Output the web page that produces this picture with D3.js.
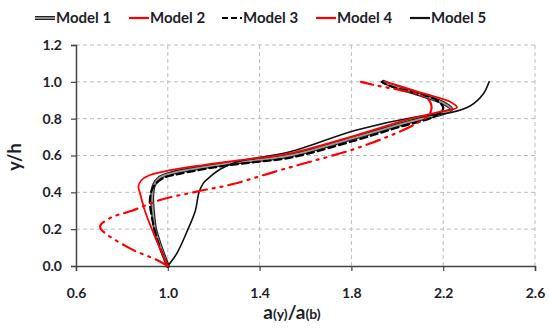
<!DOCTYPE html>
<html><head><meta charset="utf-8">
<script src="https://cdn.jsdelivr.net/npm/d3@7"></script>
<style>body{margin:0;background:#fff}svg{display:block}text{font-family:Lato,"Open Sans",sans-serif}</style>
</head><body><svg id="c" width="549" height="330"></svg>
<script>
const xTicks = [0.6, 1.0, 1.4, 1.8, 2.2, 2.6];
const yTicks = [0.0, 0.2, 0.4, 0.6, 0.8, 1.0, 1.2];
const seriesNames = ["Model 1", "Model 2", "Model 3", "Model 4", "Model 5"];

const m1x = [1.0, 0.97, 0.945, 0.935, 0.932, 0.94, 0.965, 1.02, 1.1, 1.25, 1.533, 1.823, 2.06, 2.2, 2.235, 2.2, 2.1, 2.0, 1.94];
const m1y = [0.0, 0.1, 0.2, 0.3, 0.38, 0.44, 0.48, 0.505, 0.525, 0.555, 0.60, 0.70, 0.785, 0.83, 0.852, 0.885, 0.93, 0.97, 1.0];

const m2x = [1.0, 0.944, 0.9, 0.879, 0.872, 0.886, 0.923, 1.01, 1.154, 1.315, 1.533, 1.823, 2.04, 2.187, 2.26, 2.23, 2.114, 2.012, 1.947];
const m2y = [0.0, 0.16, 0.3, 0.395, 0.43, 0.467, 0.494, 0.52, 0.548, 0.575, 0.612, 0.711, 0.793, 0.838, 0.861, 0.892, 0.937, 0.977, 1.0];

const m3x = [1.0, 0.96, 0.93, 0.922, 0.937, 0.98, 1.05, 1.2, 1.35, 1.533, 1.823, 2.012, 2.157, 2.20, 2.172, 2.085, 1.969, 1.932];
const m3y = [0.0, 0.12, 0.27, 0.36, 0.43, 0.477, 0.50, 0.535, 0.56, 0.588, 0.684, 0.756, 0.81, 0.856, 0.90, 0.937, 0.977, 1.0];

const m4x = [1.0, 0.957, 0.821, 0.705, 0.748, 0.843, 0.966, 1.126, 1.285, 1.46, 1.62, 1.795, 1.954, 2.085, 2.143, 2.143, 2.10, 2.012, 1.91, 1.842];
const m4y = [0.0, 0.03, 0.105, 0.213, 0.26, 0.30, 0.358, 0.404, 0.445, 0.51, 0.566, 0.628, 0.70, 0.775, 0.829, 0.892, 0.927, 0.955, 0.98, 1.0];

const m5x = [1.0, 1.04, 1.088, 1.12, 1.136, 1.155, 1.18, 1.228, 1.30, 1.40, 1.533, 1.823, 2.085, 2.23, 2.317, 2.376, 2.40];
const m5y = [0.0, 0.07, 0.2, 0.3, 0.4, 0.45, 0.48, 0.525, 0.565, 0.59, 0.62, 0.738, 0.81, 0.832, 0.869, 0.937, 1.0];

const svg = d3.select("#c");
const x = d3.scaleLinear().domain([0.6, 2.6]).range([76, 535]);
const y = d3.scaleLinear().domain([0, 1.2]).range([266, 45]);
const txt = "#1e1e2a";

// grid
svg.append("g").selectAll("line").data(xTicks.slice(1)).join("line")
  .attr("x1", d => x(d)).attr("x2", d => x(d)).attr("y1", y(0)).attr("y2", y(1.2))
  .attr("stroke", "#bdbdbd").attr("stroke-dasharray", "4,3").attr("stroke-width", 1);
svg.append("g").selectAll("line").data(yTicks.slice(1)).join("line")
  .attr("x1", x(0.6)).attr("x2", x(2.6)).attr("y1", d => y(d)).attr("y2", d => y(d))
  .attr("stroke", "#bdbdbd").attr("stroke-dasharray", "4,3").attr("stroke-width", 1);

// axes
const xa = svg.append("g").attr("transform", `translate(0,${y(0)})`)
  .call(d3.axisBottom(x).tickValues(xTicks).tickSize(5).tickFormat(d3.format(".1f")));
const ya = svg.append("g").attr("transform", `translate(${x(0.6)},0)`)
  .call(d3.axisLeft(y).tickValues(yTicks).tickSize(5).tickFormat(d3.format(".1f")));
[xa, ya].forEach(a => {
  a.select(".domain").attr("stroke", "#444").attr("stroke-width", 1.5);
  a.selectAll(".tick line").attr("stroke", "#444").attr("stroke-width", 1.2);
  a.selectAll("text").attr("fill", txt).attr("font-size", 14).attr("font-weight", "bold")
   .style("font-family", "Lato, sans-serif");
});
xa.selectAll("text").attr("dy", "0.71em").attr("y", 22);
ya.selectAll("text").attr("x", -14);

// titles
const xt = svg.append("text").attr("x", 292).attr("y", 319).attr("text-anchor", "middle")
  .attr("fill", txt).attr("font-size", 19).attr("font-weight", "bold");
xt.append("tspan").text("a");
xt.append("tspan").attr("font-size", 14).text("(y)");
xt.append("tspan").text("/a");
xt.append("tspan").attr("font-size", 14).text("(b)");
svg.append("text").attr("transform", "translate(21,157) rotate(-90)").attr("text-anchor", "middle")
  .attr("fill", txt).attr("font-size", 18).attr("font-weight", "bold").text("y/h");

// series
const styles = [
  {xs: m1x, ys: m1y, color: "#222", w: 4, dash: null, inner: "#9a9a9a"},
  {xs: m2x, ys: m2y, color: "#ff0000", w: 1.8, dash: null},
  {xs: m3x, ys: m3y, color: "#000", w: 2.2, dash: "7,4"},
  {xs: m4x, ys: m4y, color: "#ff0000", w: 2.2, dash: "14,6,2,6,2,6"},
  {xs: m5x, ys: m5y, color: "#111", w: 1.6, dash: null}
];
const line = d3.line().x(d => x(d[0])).y(d => y(d[1])).curve(d3.curveCatmullRom.alpha(0.5));
const order = [0, 4, 2, 3, 1];
order.forEach(i => {
  const s = styles[i];
  const pts = s.xs.map((v, k) => [v, s.ys[k]]);
  svg.append("path").datum(pts).attr("d", line).attr("fill", "none")
    .attr("stroke", s.color).attr("stroke-width", s.w).attr("stroke-dasharray", s.dash)
    .attr("stroke-linecap", "round");
  if (s.inner) svg.append("path").datum(pts).attr("d", line).attr("fill", "none")
    .attr("stroke", s.inner).attr("stroke-width", 1.8);
});

// legend
const lx = [35, 129, 222, 316, 410];
seriesNames.forEach((n, i) => {
  const s = styles[i];
  const g = svg.append("g");
  g.append("line").attr("x1", lx[i]).attr("x2", lx[i] + 20).attr("y1", 18).attr("y2", 18)
    .attr("stroke", s.color).attr("stroke-width", i === 0 ? 4 : 2.2)
    .attr("stroke-dasharray", i === 2 ? "6,3" : null);
  if (s.inner) g.append("line").attr("x1", lx[i]).attr("x2", lx[i] + 20).attr("y1", 18).attr("y2", 18)
    .attr("stroke", s.inner).attr("stroke-width", 1.8);
  g.append("text").attr("x", lx[i] + 21).attr("y", 23).attr("fill", txt)
    .attr("font-size", 15).attr("font-weight", "bold").text(n);
});
</script></body></html>
